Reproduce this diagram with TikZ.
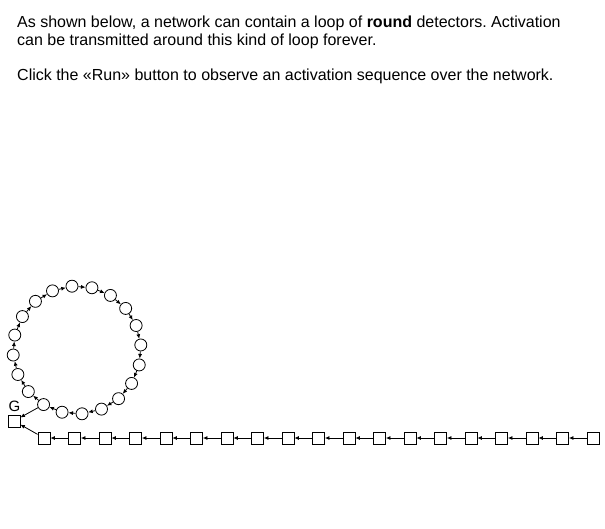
\documentclass[tikz,border=0pt]{standalone}
\usepackage{fontspec}
\setmainfont{Liberation Sans}
\usetikzlibrary{arrows.meta}
\frenchspacing
\begin{document}
\begin{tikzpicture}[x=1pt,y=-1pt,
  txt/.style={anchor=base west,inner sep=0pt,font=\fontsize{16}{19}\selectfont},
  det/.style={circle,draw,line width=0.8pt,minimum size=12pt,inner sep=0pt},
  sq/.style={rectangle,draw,line width=0.8pt,minimum size=12pt,inner sep=0pt},
  link/.style={line width=0.8pt,-{Latex[length=4.5pt,width=4pt]}}]
\useasboundingbox[fill=white] (0,0) rectangle (605,529);
\node[txt] (t1) at (17,28) {As shown below, a network can contain a loop of \textbf{round} detectors. Activation};
\node[txt] (t2) at (17,46) {can be transmitted around this kind of loop forever.};
\node[txt] (t3) at (17,81) {Click the «Run» button to observe an activation sequence over the network.};
% ring
\foreach \k in {0,...,19}{
  \pgfmathsetmacro\a{94.5-18*\k}
  \node[det] (c\k) at ({77+64*cos(\a)},{350-64*sin(\a)}) {};
}
\foreach \k in {0,...,19}{
  \pgfmathtruncatemacro\n{mod(\k+1,20)}
  \draw[link] (c\k) -- (c\n);
}
% G
\node[sq] (G) at (14,421) {};
\node[anchor=base,inner sep=0pt,font=\fontsize{15}{17}\selectfont] (gl) at (14.5,411) {G};
\draw[link] (c12) -- (G);
% chain
\foreach \i in {1,...,19}{
  \node[sq] (s\i) at ({44+30.5*(\i-1)},438) {};
}
\foreach \i in {1,...,18}{
  \pgfmathtruncatemacro\j{\i+1}
  \draw[link] (s\j) -- (s\i);
}
\draw[link] (s1) -- (G);
\end{tikzpicture}
\end{document}
